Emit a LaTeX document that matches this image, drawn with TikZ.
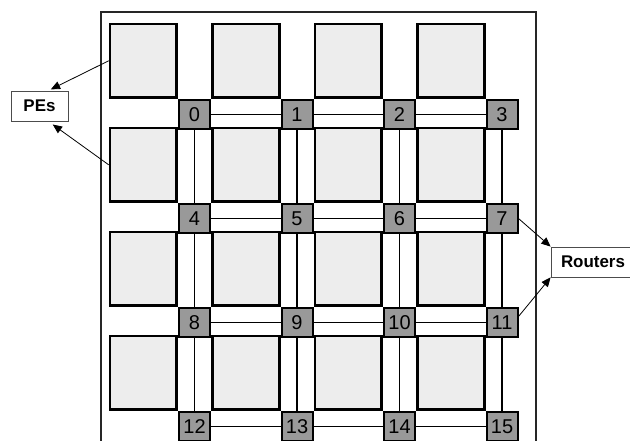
\documentclass[tikz,border=0pt]{standalone}
\usepackage{fontspec}
\setmainfont{Liberation Sans}
\usetikzlibrary{arrows.meta,positioning}

\tikzset{
  router/.style={draw=black,line width=1.5pt,fill=black!40,minimum width=23.25pt,
    minimum height=21.75pt,inner sep=0pt,font=\fontsize{15}{15}\selectfont},
  pe/.style={draw=black,line width=2pt,fill=black!7,minimum width=50pt,
    minimum height=55.3pt,inner sep=0pt},
  chan/.style={line width=1.1pt},
  tag/.style={draw=black!70,line width=0.6pt,fill=white,minimum height=22.5pt,
    inner sep=0pt,font=\bfseries\fontsize{12.7}{13}\selectfont},
  pointer/.style={-{Triangle[length=7pt,width=6pt]},line width=0.6pt}
}

\begin{document}
\begin{tikzpicture}[x=0.75pt,y=-0.75pt]
\useasboundingbox (0,0) rectangle (630,441);

% chip outline, runs off the bottom
\draw[line width=1pt,black!85] (101,460) -- (101,12) -- (536,12) -- (536,460);

% routers, each PE sits up-left of its router
\foreach \r in {0,...,3}
  \foreach \c in {0,...,3}{
    \pgfmathtruncatemacro\n{4*\r+\c}
    \node[router] (r\n) at ({194.5+102.5*\c},{114.5+104*\r}) {\n};
    \node[pe,above left=0pt of r\n.north west] (pe\n) {};
  }

% channels
\foreach \r in {0,...,3}
  \foreach \c in {0,1,2}{
    \pgfmathtruncatemacro\a{4*\r+\c}
    \pgfmathtruncatemacro\b{\a+1}
    \draw[chan] (r\a) -- (r\b);
  }
\foreach \a in {0,...,11}{
  \pgfmathtruncatemacro\b{\a+4}
  \draw[chan] (r\a) -- (r\b);
}

\node[tag,minimum width=42.75pt] (pes) at (39.5,106) {PEs};
\node[tag,minimum width=63pt] (rts) at (593,262) {Routers};

\draw[pointer,shorten >=2pt] (pe0.west) -- (pes.60);
\draw[pointer,shorten >=4pt] (pe4.west) -- (pes.-60);
\draw[pointer] (r7.east) -- (rts.north west);
\draw[pointer] (r11.20) -- (rts.south west);
\end{tikzpicture}
\end{document}
